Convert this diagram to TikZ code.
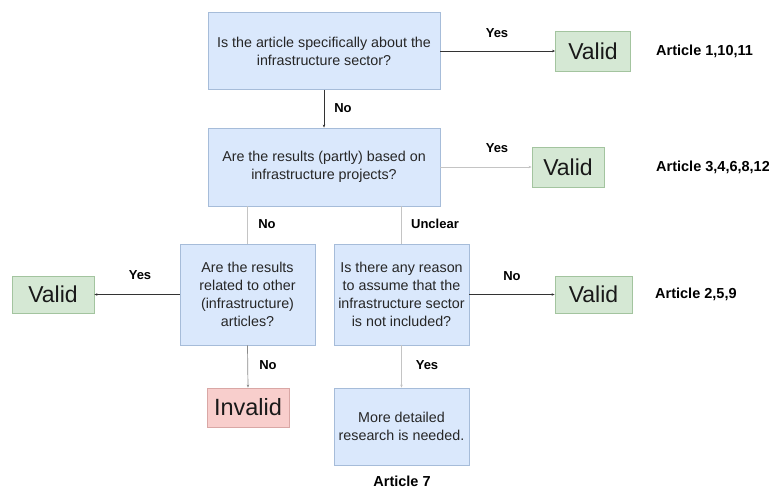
\documentclass[tikz,border=0pt]{standalone}
\usepackage{fontspec}
\setmainfont{Liberation Sans}
\usetikzlibrary{arrows.meta}
\definecolor{qfill}{HTML}{DAE8FC}
\definecolor{qline}{HTML}{A6BCD9}
\definecolor{okfill}{HTML}{D5E8D4}
\definecolor{okline}{HTML}{A3C49F}
\definecolor{badfill}{HTML}{F8CECC}
\definecolor{badline}{HTML}{D9A7A5}
\definecolor{darkwire}{HTML}{333333}
\definecolor{lightwire}{HTML}{C4C4C4}
\definecolor{midwire}{HTML}{8A8A8A}
\begin{document}
\begin{tikzpicture}[x=1pt,y=-1pt,
  question/.style={draw=qline,fill=qfill,line width=0.8pt,align=center,inner sep=1pt,
    text=black!85,font=\fontsize{14.3}{17.8}\selectfont},
  verdict/.style={draw=okline,fill=okfill,line width=0.8pt,inner sep=0pt,
    text=black!90,font=\fontsize{23}{26}\selectfont},
  reject/.style={draw=badline,fill=badfill,line width=0.8pt,inner sep=0pt,
    text=black!90,font=\fontsize{23.5}{26}\selectfont},
  answer/.style={font=\bfseries\fontsize{13}{15}\selectfont,inner sep=0pt},
  articles/.style={font=\bfseries\fontsize{14.5}{16}\selectfont,inner sep=0pt,anchor=west},
  tip/.style={-{Stealth[length=3pt,width=2.5pt]}},
  wire/.style={line width=0.7pt,darkwire},
  paleline/.style={line width=0.7pt,lightwire},
  midline/.style={line width=0.7pt,midwire}]
\useasboundingbox (0,0) rectangle (769,488);

% questions
\node[question,minimum width=232pt,minimum height=77pt] (q1) at (324,51)
  {Is the article specifically about the\\infrastructure sector?};
\node[question,minimum width=232pt,minimum height=78pt] (q2) at (324,167)
  {Are the results (partly) based on\\infrastructure projects?};
\node[question,minimum width=135pt,minimum height=101pt] (q3) at (247.5,294.5)
  {Are the results\\related to other\\(infrastructure)\\articles?};
\node[question,minimum width=135pt,minimum height=101pt] (q4) at (401.5,294.5)
  {Is there any reason\\to assume that the\\infrastructure sector\\is not included?};
\node[question,minimum width=135pt,minimum height=77pt] (q5) at (401.5,426.5)
  {More detailed\\research is needed.};

% outcomes
\node[verdict,minimum width=75pt,minimum height=40pt] (v1) at (593,51.5) {Valid};
\node[verdict,minimum width=72pt,minimum height=40pt] (v2) at (568,167) {Valid};
\node[verdict,minimum width=82pt,minimum height=37pt] (v3) at (53,294.5) {Valid};
\node[verdict,minimum width=77pt,minimum height=37pt] (v4) at (593.5,294.5) {Valid};
\node[reject,minimum width=82pt,minimum height=39pt] (inv) at (248,407.5) {Invalid};

% connectors
\draw[wire,tip] (q1.east) -- (v1.west |- q1.east);
\draw[wire,tip] (q1.south) -- (q2.north);
\draw[paleline,tip] (q2.east) -- (v2.west);
\draw[paleline] (q3.north |- q2.south) -- (q3.north);
\draw[paleline] (q4.north |- q2.south) -- (q4.north);
\draw[wire,tip] (q3.west) -- (v3.east);
\draw[midline,tip] (q3.south) -- (inv.north);
\draw[wire,tip] (q4.east) -- (v4.west);
\draw[paleline,tip] (q4.south) -- (q5.north);

% answer labels
\node[answer] (a1) at (497,33) {Yes};
\node[answer] (a2) at (343,108) {No};
\node[answer] (a3) at (497,148) {Yes};
\node[answer] (a4) at (267,224) {No};
\node[answer] (a5) at (435,224) {Unclear};
\node[answer] (a6) at (140,275) {Yes};
\node[answer] (a7) at (512,276) {No};
\node[answer] (a8) at (268,365) {No};
\node[answer] (a9) at (427,365) {Yes};

% article references
\node[articles] (r1) at (656,51) {Article 1,10,11};
\node[articles] (r2) at (656,167) {Article 3,4,6,8,12};
\node[articles] (r3) at (655,294) {Article 2,5,9};
\node[articles,anchor=center] (r4) at (402,481) {Article 7};
\end{tikzpicture}
\end{document}
